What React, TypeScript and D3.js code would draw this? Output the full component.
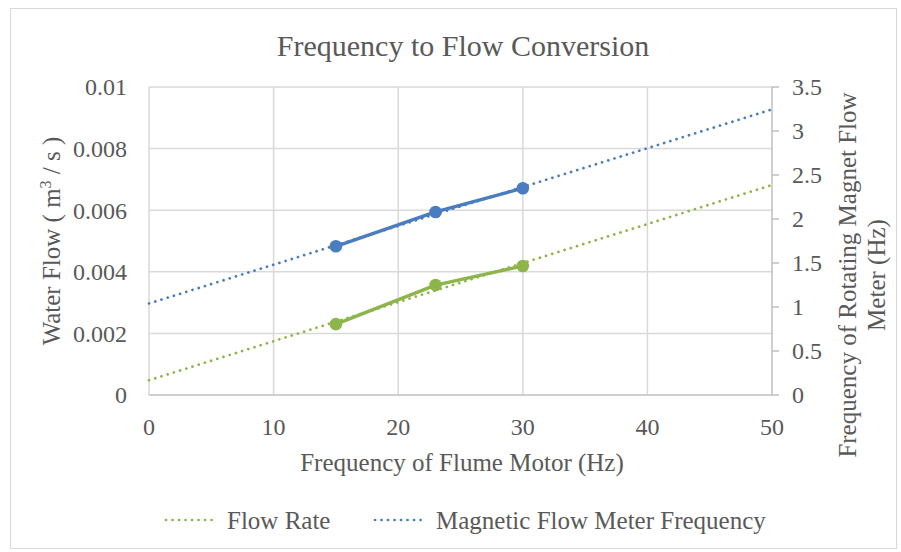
import { useEffect, useRef } from 'react';
import * as d3 from 'd3';

const motorHz = [15, 23, 30];
const flowRate = [0.0023, 0.00357, 0.00419];
const meterFreq = [1.69, 2.08, 2.35];
const xTicks = [0, 10, 20, 30, 40, 50];
const leftTicks = [0, 0.002, 0.004, 0.006, 0.008, 0.01];
const rightTicks = [0, 0.5, 1, 1.5, 2, 2.5, 3, 3.5];

const GREEN = '#8db54b';
const BLUE = '#4a7cc0';
const FONT = 'Liberation Serif, serif';
const DOTS = '0.1 6.4';

// least squares trendline, like the spreadsheet's linear trendline
function fit(xs: number[], ys: number[]) {
  const mx = d3.mean(xs)!;
  const my = d3.mean(ys)!;
  let sxy = 0, sxx = 0;
  xs.forEach((x, i) => { sxy += (x - mx) * (ys[i] - my); sxx += (x - mx) ** 2; });
  const b = sxy / sxx;
  return (x: number) => my + b * (x - mx);
}

export default function App() {
  const svgRef = useRef<SVGSVGElement>(null);

  useEffect(() => {
    const svg = d3.select(svgRef.current);
    svg.selectAll('*').remove();
    const W = 901, H = 552;

    svg.append('rect').attr('x', 10.5).attr('y', 8.5).attr('width', W - 15).attr('height', H - 12)
      .attr('fill', '#fff').attr('stroke', '#d9d9d9');

    const x = d3.scaleLinear().domain([0, 50]).range([149, 772]);
    const yL = d3.scaleLinear().domain([0, 0.01]).range([395, 87]);
    const yR = d3.scaleLinear().domain([0, 3.5]).range([395, 87]);

    // grid
    svg.append('g').selectAll('line').data(leftTicks.slice(1)).enter().append('line')
      .attr('x1', x(0)).attr('x2', x(50)).attr('y1', d => yL(d)).attr('y2', d => yL(d))
      .attr('stroke', '#d9d9d9').attr('stroke-width', 1.5);
    svg.append('g').selectAll('line').data(xTicks.slice(0, -1)).enter().append('line')
      .attr('x1', d => x(d)).attr('x2', d => x(d)).attr('y1', yL(0)).attr('y2', yL(0.01))
      .attr('stroke', '#d9d9d9').attr('stroke-width', 1.5);

    // axis lines
    svg.append('line').attr('x1', x(0)).attr('x2', x(50)).attr('y1', yL(0)).attr('y2', yL(0))
      .attr('stroke', '#bfbfbf').attr('stroke-width', 1.5);
    svg.append('line').attr('x1', x(50)).attr('x2', x(50)).attr('y1', yR(0)).attr('y2', yR(3.5))
      .attr('stroke', '#bfbfbf').attr('stroke-width', 1.5);
    svg.append('g').selectAll('line').data(rightTicks).enter().append('line')
      .attr('x1', x(50)).attr('x2', x(50) + 7).attr('y1', d => yR(d)).attr('y2', d => yR(d))
      .attr('stroke', '#bfbfbf').attr('stroke-width', 1.5);

    const txt = (sel: any) => sel.attr('font-family', FONT).attr('fill', '#595959');

    // tick labels
    svg.append('g').selectAll('text').data(leftTicks).enter().append('text').call(txt)
      .attr('x', 127).attr('y', d => yL(d)).attr('dy', '0.35em').attr('text-anchor', 'end')
      .attr('font-size', 24).text(d => String(d));
    svg.append('g').selectAll('text').data(rightTicks).enter().append('text').call(txt)
      .attr('x', 792).attr('y', d => yR(d)).attr('dy', '0.35em')
      .attr('font-size', 24).text(d => String(d));
    svg.append('g').selectAll('text').data(xTicks).enter().append('text').call(txt)
      .attr('x', d => x(d)).attr('y', 427).attr('dy', '0.35em').attr('text-anchor', 'middle')
      .attr('font-size', 24).text(d => String(d));

    // trendlines
    const fg = fit(motorHz, flowRate);
    const fb = fit(motorHz, meterFreq);
    const ends = [0, 50];
    svg.append('path').attr('d', d3.line<number>().x(d => x(d)).y(d => yL(fg(d)))(ends))
      .attr('stroke', GREEN).attr('stroke-width', 2.7).attr('fill', 'none')
      .attr('stroke-dasharray', DOTS).attr('stroke-linecap', 'round');
    svg.append('path').attr('d', d3.line<number>().x(d => x(d)).y(d => yR(fb(d)))(ends))
      .attr('stroke', BLUE).attr('stroke-width', 2.7).attr('fill', 'none')
      .attr('stroke-dasharray', DOTS).attr('stroke-linecap', 'round');

    // series
    svg.append('path').attr('d', d3.line<number>().x(d => x(d)).y((d, i) => yL(flowRate[i]))(motorHz))
      .attr('stroke', GREEN).attr('stroke-width', 3.4).attr('fill', 'none').attr('stroke-linejoin', 'round');
    svg.append('g').selectAll('circle').data(motorHz).enter().append('circle')
      .attr('cx', d => x(d)).attr('cy', (d, i) => yL(flowRate[i])).attr('r', 6.3).attr('fill', GREEN);
    svg.append('path').attr('d', d3.line<number>().x(d => x(d)).y((d, i) => yR(meterFreq[i]))(motorHz))
      .attr('stroke', BLUE).attr('stroke-width', 3.4).attr('fill', 'none').attr('stroke-linejoin', 'round');
    svg.append('g').selectAll('circle').data(motorHz).enter().append('circle')
      .attr('cx', d => x(d)).attr('cy', (d, i) => yR(meterFreq[i])).attr('r', 6.3).attr('fill', BLUE);

    // titles
    svg.append('text').call(txt).attr('x', 463).attr('y', 45).attr('dy', '0.35em').attr('text-anchor', 'middle')
      .attr('font-size', 30).text('Frequency to Flow Conversion');
    svg.append('text').call(txt).attr('x', 462).attr('y', 462).attr('dy', '0.35em').attr('text-anchor', 'middle')
      .attr('font-size', 25).text('Frequency of Flume Motor (Hz)');

    const lt = svg.append('text').call(txt).attr('font-size', 25).attr('text-anchor', 'middle')
      .attr('transform', 'translate(60,241) rotate(-90)');
    lt.append('tspan').text('Water Flow ( m');
    lt.append('tspan').attr('dy', -9).attr('font-size', 16).text('3');
    lt.append('tspan').attr('dy', 9).text(' / s )');

    const rt = svg.append('text').call(txt).attr('font-size', 25).attr('text-anchor', 'middle')
      .attr('transform', 'translate(856,275) rotate(-90)');
    rt.append('tspan').attr('x', 0).attr('dy', 0).text('Frequency of Rotating Magnet Flow');
    rt.append('tspan').attr('x', 0).attr('dy', 29).text('Meter (Hz)');

    // legend
    const legend = [
      { label: 'Flow Rate', color: GREEN, x0: 166 },
      { label: 'Magnetic Flow Meter Frequency', color: BLUE, x0: 375 },
    ];
    legend.forEach(l => {
      svg.append('line').attr('x1', l.x0).attr('x2', l.x0 + 52).attr('y1', 520).attr('y2', 520)
        .attr('stroke', l.color).attr('stroke-width', 2.7)
        .attr('stroke-dasharray', DOTS).attr('stroke-linecap', 'round');
      svg.append('text').call(txt).attr('x', l.x0 + 61).attr('y', 520).attr('dy', '0.35em')
        .attr('font-size', 25).text(l.label);
    });
  }, []);

  return <svg ref={svgRef} width={901} height={552} style={{ display: 'block', position: 'absolute', left: 0, top: 0 }} />;
}
